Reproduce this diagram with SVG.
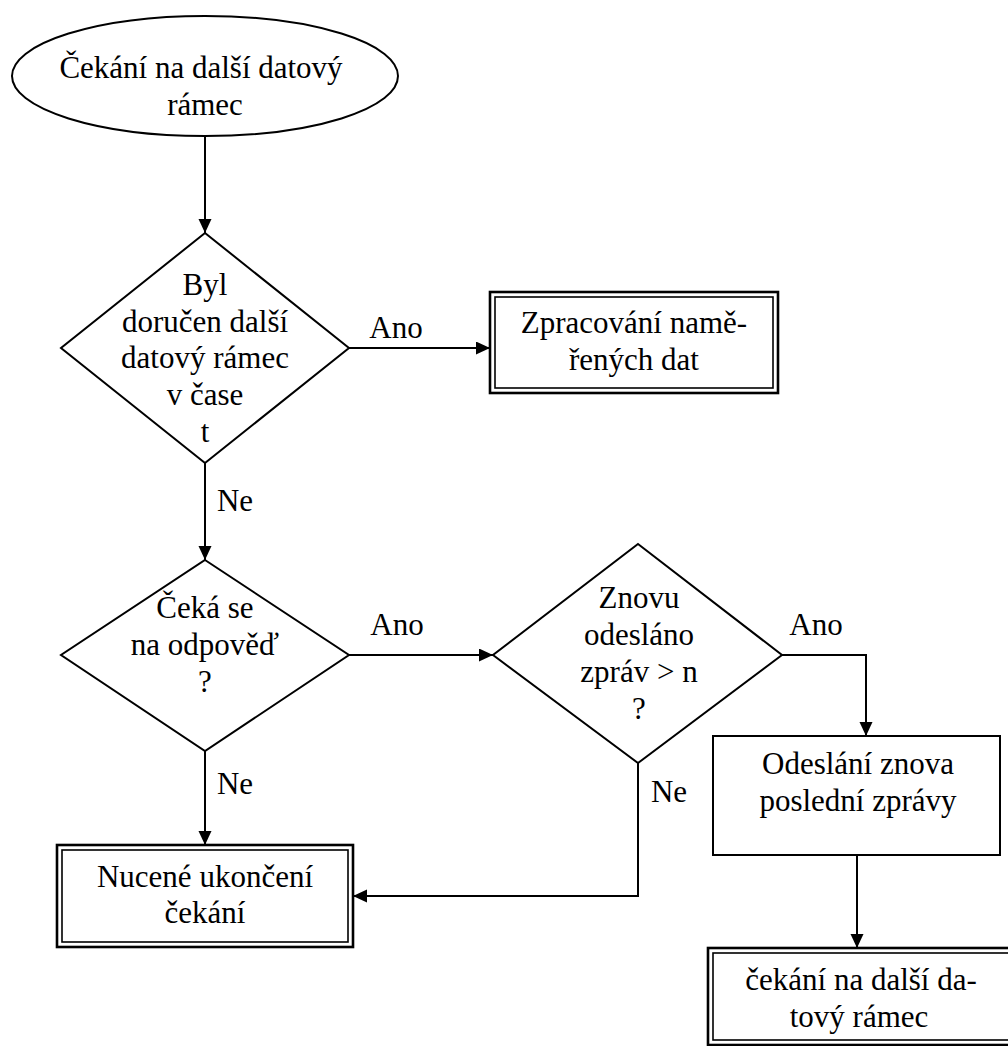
<svg xmlns="http://www.w3.org/2000/svg" width="1008" height="1046" viewBox="0 0 1008 1046">
  <style>
    .shape { fill: #ffffff; stroke: #000000; stroke-width: 2; }
    .outer { fill: #ffffff; stroke: #000000; stroke-width: 2.6; }
    .inner { fill: none; stroke: #000000; stroke-width: 1.6; }
    .link { fill: none; stroke: #000000; stroke-width: 2; }
    .t { font-family: 'Liberation Serif', 'DejaVu Serif', serif; font-size: 31px; fill: #000000; text-anchor: middle; }
  </style>
  <defs>
    <marker id="arrow" markerUnits="userSpaceOnUse" markerWidth="15" markerHeight="14" refX="14" refY="6.5" orient="auto">
      <path d="M0,0 L14,6.5 L0,13 z" fill="#000000"/>
    </marker>
  </defs>

  <rect width="1008" height="1046" fill="#ffffff"/>

  <g font-family="Liberation Serif, DejaVu Serif, serif" font-size="31" text-anchor="middle">
  <!-- connectors -->
  <g id="connectors">
    <path class="link" d="M205,136 V233" marker-end="url(#arrow)"/>
    <path class="link" d="M349,348 H490" marker-end="url(#arrow)"/>
    <path class="link" d="M205,463 V560" marker-end="url(#arrow)"/>
    <path class="link" d="M349,655 H493" marker-end="url(#arrow)"/>
    <path class="link" d="M782,655 H866 V736" marker-end="url(#arrow)"/>
    <path class="link" d="M205,751 V845" marker-end="url(#arrow)"/>
    <path class="link" d="M638,763 V896 H353" marker-end="url(#arrow)"/>
    <path class="link" d="M857,855 V948" marker-end="url(#arrow)"/>
    <text class="t" x="396" y="338">Ano</text>
    <text class="t" x="235" y="511">Ne</text>
    <text class="t" x="397" y="635">Ano</text>
    <text class="t" x="816" y="635">Ano</text>
    <text class="t" x="235" y="794">Ne</text>
    <text class="t" x="669" y="802">Ne</text>
  </g>

  <!-- start: waiting for the next data frame -->
  <g id="start">
    <ellipse class="shape" cx="205" cy="76" rx="193" ry="60"/>
    <text class="t" x="201" y="78">Čekání na další datový</text>
    <text class="t" x="205" y="115">rámec</text>
  </g>

  <!-- decision: frame delivered in time t -->
  <g id="frame-delivered">
    <polygon class="shape" points="205,233 349,348 205,463 61,348"/>
    <text class="t" x="205" y="295">Byl</text>
    <text class="t" x="205" y="332">doručen další</text>
    <text class="t" x="205" y="368">datový rámec</text>
    <text class="t" x="205" y="405">v čase</text>
    <text class="t" x="205" y="442">t</text>
  </g>

  <!-- process measured data -->
  <g id="process-data">
    <rect class="outer" x="490" y="292" width="288" height="101"/>
    <rect class="inner" x="495" y="297" width="278" height="91"/>
    <text class="t" x="634" y="333">Zpracování namě-</text>
    <text class="t" x="634" y="370">řených dat</text>
  </g>

  <!-- decision: waiting for a reply -->
  <g id="awaiting-reply">
    <polygon class="shape" points="205,560 349,655 205,751 61,655"/>
    <text class="t" x="205" y="618">Čeká se</text>
    <text class="t" x="205" y="655">na odpověď</text>
    <text class="t" x="205" y="692">?</text>
  </g>

  <!-- decision: resend count exceeded -->
  <g id="resend-limit">
    <polygon class="shape" points="638,544 782,655 638,763 493,655"/>
    <text class="t" x="639" y="608">Znovu</text>
    <text class="t" x="639" y="645">odesláno</text>
    <text class="t" x="639" y="682">zpráv &gt; n</text>
    <text class="t" x="639" y="719">?</text>
  </g>

  <!-- resend last message -->
  <g id="resend">
    <rect class="shape" x="713" y="736" width="287" height="119"/>
    <text class="t" x="858" y="774">Odeslání znova</text>
    <text class="t" x="858" y="811">poslední zprávy</text>
  </g>

  <!-- forced end of waiting -->
  <g id="forced-end">
    <rect class="outer" x="57" y="845" width="296" height="102"/>
    <rect class="inner" x="62" y="850" width="286" height="92"/>
    <text class="t" x="205" y="887">Nucené ukončení</text>
    <text class="t" x="205" y="923">čekání</text>
  </g>

  <!-- back to waiting for the next data frame -->
  <g id="wait-next">
    <rect class="outer" x="708" y="948" width="310" height="97"/>
    <rect class="inner" x="713" y="953" width="300" height="87"/>
    <text class="t" x="861" y="990">čekání na další da-</text>
    <text class="t" x="859" y="1027">tový rámec</text>
  </g>
  </g>
</svg>
